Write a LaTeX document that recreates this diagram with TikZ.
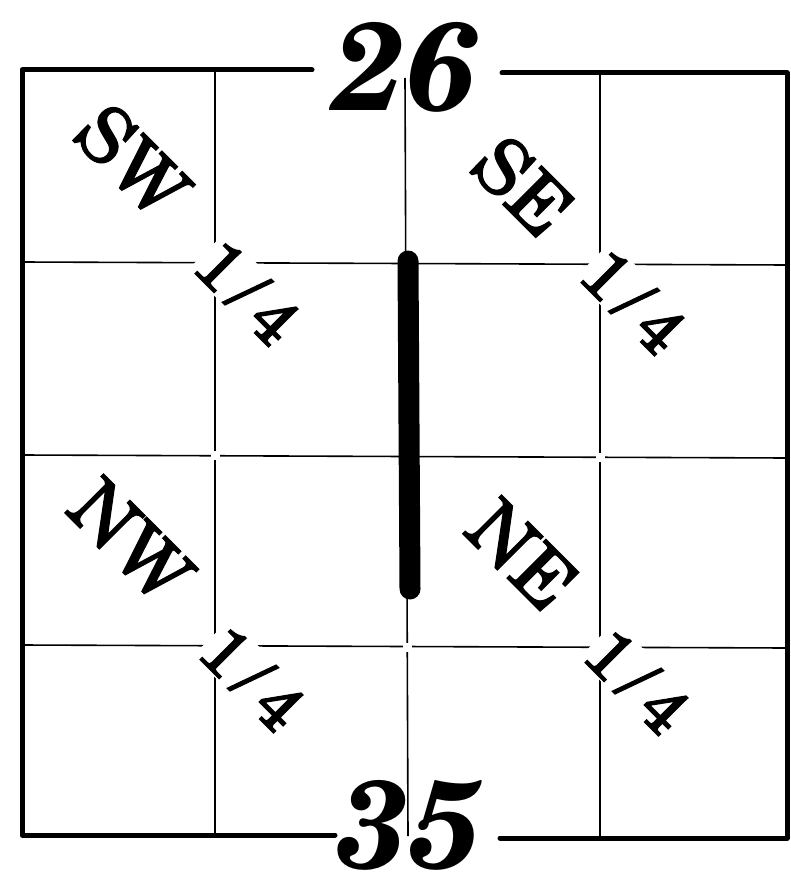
\documentclass[tikz,border=0pt]{standalone}
\usepackage{fontspec}
\usepackage{tikz}
\newfontfamily\scholafont{texgyreschola}[Extension=.otf, UprightFont=*-regular, BoldFont=*-bold, ItalicFont=*-italic, BoldItalicFont=*-bolditalic]
\newfontfamily\scholaheavy{texgyreschola-regular.otf}[FakeBold=1.6]
\newcommand{\quarterfont}{\scholaheavy\fontsize{76}{76}\selectfont}
\newcommand{\fractionfont}{\scholaheavy\fontsize{68}{68}\selectfont}
\newcommand{\sectionfont}{\scholafont\fontsize{125}{125}\selectfont\bfseries\itshape}
\tikzset{
    sec/plat/.style={x=1pt, y=-1pt},
    sec/frame/.style={line width=5pt, line cap=round, line join=round},
    sec/grid/.style={line width=1.6pt},
    sec/gap/.style={fill=white, draw=none, minimum size=9pt, inner sep=0pt},
    sec/bar/.style={line width=21pt, line cap=round},
    sec/quarter/.style={font=\quarterfont, rotate=-45, inner sep=0pt},
    sec/fraction/.style={font=\fractionfont, rotate=-45, fill=white, inner sep=1pt},
    sec/number/.style={font=\sectionfont, inner sep=0pt}
}
\begin{document}
\begin{tikzpicture}[sec/plat]
    \useasboundingbox (0,0) rectangle (791,885);
    % frame corners
    \coordinate (nwc) at (22,70);
    \coordinate (nec) at (787,73);
    \coordinate (swc) at (22,835);
    \coordinate (sec) at (787,838);
    % grid
    \foreach \x in {215,600}
        \draw[sec/grid] (\x,72) -- (\x,836);
    \draw[sec/grid] (405,78) -- (408,836);
    \foreach \y in {262,455,645}
        \draw[sec/grid] (22,\y) -- (787,\y+3);
    \foreach \x/\y in {215/455,600/457,407/647}
        \node[sec/gap] at (\x,\y) {};
    % frame
    \draw[sec/frame] (312,70) -- (nwc) -- (swc) -- (335,835);
    \draw[sec/frame] (502,73) -- (nec) -- (sec) -- (500,838);
    % section numbers
    \node[sec/number] (top) at (406,67) {26};
    \node[sec/number] (bottom) at (410,825) {35};
    % line marker
    \draw[sec/bar] (408,261) -- (410,589);
    % quarter labels
    \node[sec/quarter] (sw) at (133,161) {SW};
    \node[sec/quarter] (se) at (523,186) {SE};
    \node[sec/quarter] (nw) at (131,541) {NW};
    \node[sec/quarter] (ne) at (522,555) {NE};
    \node[sec/fraction] (swq) at (248,292) {1\kern10pt/\kern10pt4};
    \node[sec/fraction] (seq) at (634,301) {1\kern10pt/\kern10pt4};
    \node[sec/fraction] (nwq) at (253,678) {1\kern10pt/\kern10pt4};
    \node[sec/fraction] (neq) at (638,681) {1\kern10pt/\kern10pt4};
\end{tikzpicture}
\end{document}
